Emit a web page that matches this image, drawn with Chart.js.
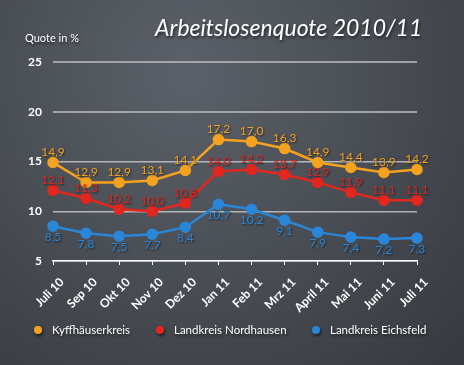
<!DOCTYPE html>
<html>
<head>
<meta charset="utf-8">
<script src="https://cdn.jsdelivr.net/npm/chart.js@4"></script>
<style>
  html, body { margin: 0; padding: 0; }
  body {
    width: 464px; height: 365px; overflow: hidden;
    background: radial-gradient(ellipse at 40% 20%, #5c6068 0%, #4b4f56 45%, #36393e 100%);
  }
  #wrap { position: relative; width: 464px; height: 365px; }
</style>
</head>
<body>
<div id="wrap"><canvas id="alq" width="464" height="365"></canvas></div>
<script>
// Werte
const months = ['Juli 10', 'Sep 10', 'Okt 10', 'Nov 10', 'Dez 10', 'Jan 11',
  'Feb 11', 'Mrz 11', 'April 11', 'Mai 11', 'Juni 11', 'Juli 11'];
const kyffhaeuser = [14.9, 12.9, 12.9, 13.1, 14.1, 17.2, 17.0, 16.3, 14.9, 14.4, 13.9, 14.2];
const nordhausen = [12.1, 11.3, 10.2, 10.0, 10.8, 14.0, 14.2, 13.7, 12.9, 11.9, 11.1, 11.1];
const eichsfeld = [8.5, 7.8, 7.5, 7.7, 8.4, 10.7, 10.2, 9.1, 7.9, 7.4, 7.2, 7.3];
const seriesNames = ['Kyffhäuserkreis', 'Landkreis Nordhausen', 'Landkreis Eichsfeld'];
const yTicks = [5, 10, 15, 20, 25];

const colors = ['#f4a21f', '#e2271f', '#2a86d8'];
const font = 'Lato, "DejaVu Sans", sans-serif';

function fmt(v) { return v.toFixed(1).replace('.', ','); }

// Titel, Achsentitel, Werte an den Punkten und Legende
const extras = {
  id: 'extras',
  afterDatasetsDraw(chart) {
    const ctx = chart.ctx;
    ctx.save();
    chart.data.datasets.forEach((ds, i) => {
      const meta = chart.getDatasetMeta(i);
      ctx.font = '12px ' + font;
      ctx.textAlign = 'center';
      ctx.fillStyle = ds.borderColor;
      ctx.shadowColor = 'rgba(0,0,0,0.6)';
      ctx.shadowBlur = 2;
      ctx.shadowOffsetX = 1;
      ctx.shadowOffsetY = 1;
      meta.data.forEach((pt, j) => {
        const below = i === 2;
        ctx.textBaseline = below ? 'top' : 'bottom';
        ctx.fillText(fmt(ds.data[j]), pt.x, below ? pt.y + 5 : pt.y - 4);
      });
    });
    ctx.restore();
  },
  afterDraw(chart) {
    const ctx = chart.ctx;
    ctx.save();
    ctx.shadowColor = 'rgba(0,0,0,0.6)';
    ctx.shadowBlur = 3;
    ctx.shadowOffsetX = 1;
    ctx.shadowOffsetY = 2;
    ctx.fillStyle = '#ffffff';
    ctx.textBaseline = 'alphabetic';
    ctx.textAlign = 'left';
    ctx.font = 'italic 23px ' + font;
    ctx.fillText('Arbeitslosenquote 2010/11', 155, 36);
    ctx.font = '11px ' + font;
    ctx.fillText('Quote in %', 25, 42);

    // Legende
    const lx = [38, 160, 316];
    ctx.font = '11.5px ' + font;
    ctx.textBaseline = 'middle';
    seriesNames.forEach((name, i) => {
      ctx.fillStyle = colors[i];
      ctx.beginPath();
      ctx.arc(lx[i], 330, 4, 0, Math.PI * 2);
      ctx.fill();
      ctx.fillStyle = '#ffffff';
      ctx.fillText(name, lx[i] + 14, 330);
    });
    ctx.restore();
  }
};

const datasets = [kyffhaeuser, nordhausen, eichsfeld].map((d, i) => ({
  label: seriesNames[i],
  data: d,
  borderColor: colors[i],
  backgroundColor: colors[i],
  pointBackgroundColor: colors[i],
  pointBorderColor: colors[i],
  pointRadius: 4.5,
  borderWidth: 2.5,
  tension: 0
}));

new Chart(document.getElementById('alq'), {
  type: 'line',
  data: { labels: months, datasets: datasets },
  options: {
    responsive: false,
    animation: false,
    layout: { padding: { top: 62, right: 47, left: 0, bottom: 0 } },
    plugins: { legend: { display: false }, tooltip: { enabled: false } },
    scales: {
      x: {
        offset: false,
        afterFit(scale) { scale.height = 104; },
        grid: { drawOnChartArea: false, drawTicks: true, tickLength: 4, color: '#ffffff' },
        border: { color: '#ffffff', width: 1.5 },
        ticks: {
          color: '#ffffff',
          font: { family: font, size: 12, weight: 'bold' },
          minRotation: 45, maxRotation: 45, padding: 10, labelOffset: 9
        }
      },
      y: {
        min: 5, max: 25,
        afterFit(scale) { scale.width = 53; },
        afterBuildTicks(scale) { scale.ticks = yTicks.map(v => ({ value: v })); },
        grid: {
          color: ctx => ctx.tick && ctx.tick.value >= 20 ? 'rgba(170,172,176,0.9)' : 'rgba(215,215,215,0.75)',
          lineWidth: ctx => ctx.tick && ctx.tick.value >= 20 ? 2 : 1.5,
          drawTicks: false
        },
        border: { display: false },
        ticks: {
          color: '#ffffff',
          padding: 11,
          font: { family: font, size: 12, weight: 'bold' }
        }
      }
    }
  },
  plugins: [extras]
});
</script>
</body>
</html>
